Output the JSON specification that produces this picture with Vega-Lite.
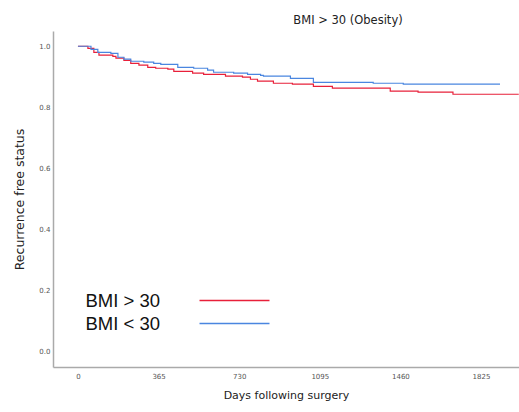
{
  "$schema": "https://vega.github.io/schema/vega-lite/v6.json",
  "width": 466,
  "height": 336,
  "autosize": "none",
  "padding": {"left": 53, "top": 31, "right": 0, "bottom": 45},
  "background": "white",
  "title": {"text": "BMI > 30 (Obesity)", "fontSize": 11.5, "fontWeight": "normal", "font": "DejaVu Sans", "color": "#222", "dx": 62, "offset": 5},
  "config": {"view": {"stroke": null}},
  "data": {"values": [
    {"group": "BMI > 30", "day": 0, "surv": 1.0},
    {"group": "BMI > 30", "day": 45, "surv": 0.993},
    {"group": "BMI > 30", "day": 72, "surv": 0.98},
    {"group": "BMI > 30", "day": 95, "surv": 0.971},
    {"group": "BMI > 30", "day": 158, "surv": 0.967},
    {"group": "BMI > 30", "day": 172, "surv": 0.961},
    {"group": "BMI > 30", "day": 208, "surv": 0.954},
    {"group": "BMI > 30", "day": 239, "surv": 0.944},
    {"group": "BMI > 30", "day": 276, "surv": 0.938},
    {"group": "BMI > 30", "day": 316, "surv": 0.931},
    {"group": "BMI > 30", "day": 352, "surv": 0.928},
    {"group": "BMI > 30", "day": 407, "surv": 0.925},
    {"group": "BMI > 30", "day": 434, "surv": 0.918},
    {"group": "BMI > 30", "day": 519, "surv": 0.912},
    {"group": "BMI > 30", "day": 569, "surv": 0.908},
    {"group": "BMI > 30", "day": 668, "surv": 0.902},
    {"group": "BMI > 30", "day": 745, "surv": 0.899},
    {"group": "BMI > 30", "day": 781, "surv": 0.892},
    {"group": "BMI > 30", "day": 813, "surv": 0.886},
    {"group": "BMI > 30", "day": 885, "surv": 0.879},
    {"group": "BMI > 30", "day": 971, "surv": 0.876},
    {"group": "BMI > 30", "day": 1066, "surv": 0.869},
    {"group": "BMI > 30", "day": 1152, "surv": 0.863},
    {"group": "BMI > 30", "day": 1414, "surv": 0.853},
    {"group": "BMI > 30", "day": 1540, "surv": 0.85},
    {"group": "BMI > 30", "day": 1698, "surv": 0.843},
    {"group": "BMI > 30", "day": 1996, "surv": 0.843},
    {"group": "BMI < 30", "day": 0, "surv": 1.0},
    {"group": "BMI < 30", "day": 59, "surv": 0.99},
    {"group": "BMI < 30", "day": 90, "surv": 0.98},
    {"group": "BMI < 30", "day": 149, "surv": 0.977},
    {"group": "BMI < 30", "day": 181, "surv": 0.964},
    {"group": "BMI < 30", "day": 208, "surv": 0.958},
    {"group": "BMI < 30", "day": 239, "surv": 0.951},
    {"group": "BMI < 30", "day": 298, "surv": 0.948},
    {"group": "BMI < 30", "day": 343, "surv": 0.944},
    {"group": "BMI < 30", "day": 375, "surv": 0.941},
    {"group": "BMI < 30", "day": 452, "surv": 0.931},
    {"group": "BMI < 30", "day": 524, "surv": 0.928},
    {"group": "BMI < 30", "day": 587, "surv": 0.922},
    {"group": "BMI < 30", "day": 614, "surv": 0.915},
    {"group": "BMI < 30", "day": 705, "surv": 0.912},
    {"group": "BMI < 30", "day": 768, "surv": 0.908},
    {"group": "BMI < 30", "day": 827, "surv": 0.905},
    {"group": "BMI < 30", "day": 840, "surv": 0.902},
    {"group": "BMI < 30", "day": 962, "surv": 0.895},
    {"group": "BMI < 30", "day": 1066, "surv": 0.882},
    {"group": "BMI < 30", "day": 1247, "surv": 0.882},
    {"group": "BMI < 30", "day": 1337, "surv": 0.879},
    {"group": "BMI < 30", "day": 1473, "surv": 0.876},
    {"group": "BMI < 30", "day": 1911, "surv": 0.876}
  ]},
  "mark": {"type": "line", "interpolate": "step-after", "strokeWidth": 1.2},
  "encoding": {
    "x": {
      "field": "day", "type": "quantitative",
      "scale": {"domain": [-113, 1997], "nice": false, "zero": false},
      "axis": {"values": [0, 365, 730, 1095, 1460, 1825], "format": "d", "grid": false, "ticks": false, "labelFontSize": 7, "labelColor": "#555", "labelFont": "DejaVu Sans", "labelPadding": 5, "domainColor": "#aaa", "domainWidth": 1.5, "title": "Days following surgery", "titleFont": "DejaVu Sans", "titleFontSize": 11, "titleFontWeight": "normal", "titleColor": "#222", "titlePadding": 10}
    },
    "y": {
      "field": "surv", "type": "quantitative",
      "scale": {"domain": [-0.05, 1.05], "nice": false, "zero": false},
      "axis": {"values": [0, 0.2, 0.4, 0.6, 0.8, 1.0], "format": ".1f", "grid": false, "ticks": false, "labelFontSize": 7, "labelColor": "#555", "labelFont": "DejaVu Sans", "labelPadding": 3, "domainColor": "#aaa", "domainWidth": 1.5, "title": "Recurrence free status", "titleFont": "DejaVu Sans", "titleFontSize": 12.5, "titleFontWeight": "normal", "titleColor": "#222", "titlePadding": 12}
    },
    "color": {
      "field": "group", "type": "nominal",
      "scale": {"domain": ["BMI > 30", "BMI < 30"], "range": ["#e8203a", "#4a86e0"]},
      "legend": {"orient": "none", "legendX": 169, "legendY": 257, "title": null, "symbolType": "M-3,0H3", "symbolSize": 544, "symbolStrokeWidth": 1.5, "labelFontSize": 18.5, "labelFont": "Liberation Sans", "labelColor": "#111", "labelAlign": "right", "labelOffset": -87, "padding": 0, "rowPadding": 1}
    }
  }
}
